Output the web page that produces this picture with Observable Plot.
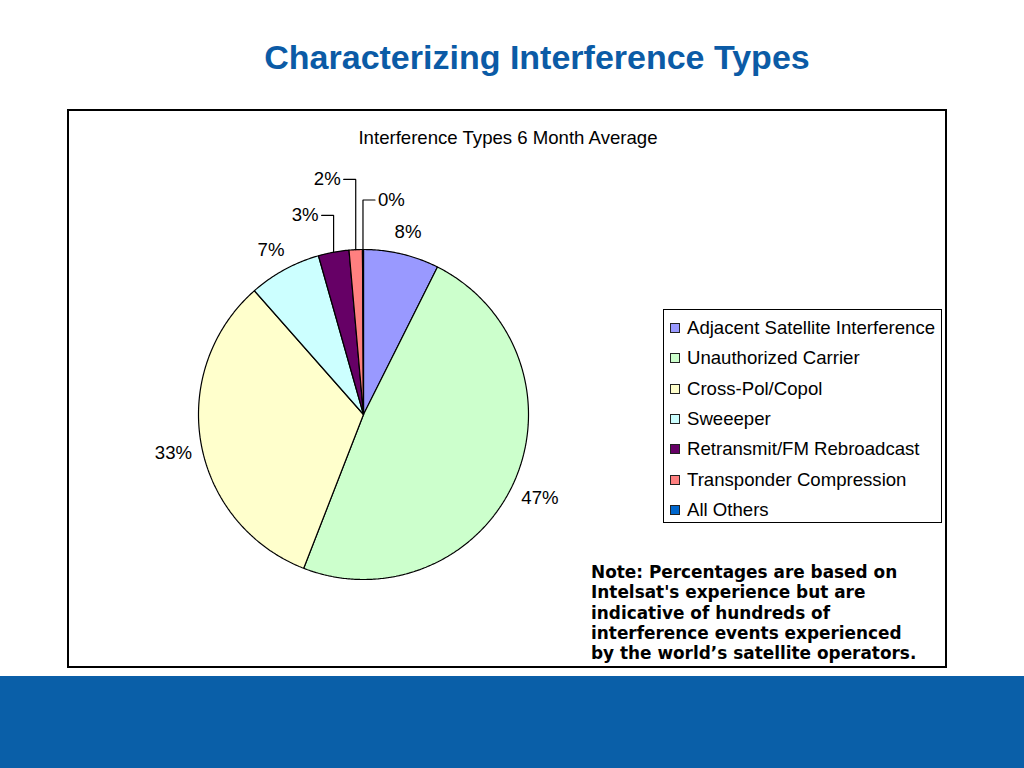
<!DOCTYPE html>
<html><head><meta charset="utf-8">
<script src="https://cdn.jsdelivr.net/npm/d3@7"></script>
<script src="https://cdn.jsdelivr.net/npm/@observablehq/plot@0.6"></script>
<style>
body{margin:0;width:1024px;height:768px;position:relative;background:#fff;font-family:"Liberation Sans",Arial,sans-serif;overflow:hidden}
#title{position:absolute;left:0;width:1074px;top:36px;text-align:center;font-weight:bold;font-size:34px;line-height:42px;color:#0B5BA6}
#band{position:absolute;left:0;top:676px;width:1024px;height:92px;background:#0A5FA8}
#box{position:absolute;left:67px;top:109px;width:880px;height:559px;border:2px solid #000;box-sizing:border-box}
#ctitle{position:absolute;left:0;width:1016px;top:128px;text-align:center;font-size:18.6px;line-height:20px;color:#000}
#chart{position:absolute;left:68px;top:110px}
#legend{position:absolute;left:663px;top:309px;width:279px;height:214px;border:1.5px solid #000;box-sizing:border-box;background:#fff}
.row{position:absolute;left:6px;height:20px;line-height:20px;font-size:18.6px;color:#000;white-space:nowrap}
.sw{display:inline-block;width:8px;height:8px;border:1px solid #222;margin-right:7px;vertical-align:1px}
#note{position:absolute;left:591px;top:562px;font-family:"DejaVu Sans",Verdana,sans-serif;font-weight:bold;font-size:16.9px;line-height:20.3px;color:#000;white-space:nowrap}
</style>
</head><body>
<div id="title">Characterizing Interference Types</div>
<div id="box"></div>
<div id="ctitle">Interference Types 6 Month Average</div>
<div id="chart"></div>
<div id="legend"></div>
<div id="note">Note: Percentages are based on<br>Intelsat's experience but are<br>indicative of hundreds of<br>interference events experienced<br>by the world’s satellite operators.</div>
<div id="band"></div>
<script>
const categories = ["Adjacent Satellite Interference","Unauthorized Carrier","Cross-Pol/Copol","Sweeeper","Retransmit/FM Rebroadcast","Transponder Compression","All Others"];
const shares = [7.4, 48.5, 32.6, 7.1, 3.0, 1.3, 0.1];
const shareLabels = ["8%","47%","33%","7%","3%","2%","0%"];
const colors = ["#9999FF","#CCFFCC","#FFFFCC","#CCFFFF","#660066","#FF8080","#0066CC"];

// layout
const W = 878, H = 557, cx = 295, cy = 304, R = 165;
const leaderLayout = { // label height (in radii) and side for small slices
  "Retransmit/FM Rebroadcast": {h: 1.207, dir: -1},
  "Transponder Compression": {h: 1.425, dir: -1},
  "All Others": {h: 1.30, dir: 1}
};

const arcs = d3.pie().sort(null).value(d => d)(shares);
const poly = [];
const leaders = [];
const plainLabels = [], leftLabels = [], rightLabels = [];
arcs.forEach((a, i) => {
  const k = categories[i];
  const a0 = a.startAngle, a1 = a.endAngle;
  const n = Math.max(2, Math.ceil((a1 - a0) / 0.01));
  poly.push({k, x: 0, y: 0});
  for (let j = 0; j <= n; j++) {
    const t = a0 + (a1 - a0) * j / n;
    poly.push({k, x: Math.sin(t), y: Math.cos(t)});
  }
  poly.push({k, x: 0, y: 0});
  const m = (a0 + a1) / 2;
  const text = shareLabels[i];
  const L = leaderLayout[k];
  if (L) {
    const px = Math.sin(m), py = Math.cos(m);
    const hl = 12 / R;
    leaders.push({k, x: px, y: py}, {k, x: px, y: L.h}, {k, x: px + L.dir * hl, y: L.h});
    const lab = {x: px + L.dir * (hl + 3 / R), y: L.h, text};
    (L.dir < 0 ? leftLabels : rightLabels).push(lab);
  } else {
    plainLabels.push({x: 1.17 * Math.sin(m), y: 1.17 * Math.cos(m), text});
  }
});

const chart = Plot.plot({
  width: W, height: H, margin: 0,
  style: {background: "transparent", overflow: "visible", fontFamily: "'Liberation Sans', Arial, sans-serif"},
  x: {domain: [-cx / R, (W - cx) / R], axis: null},
  y: {domain: [-(H - cy) / R, cy / R], axis: null},
  color: {domain: categories, range: colors},
  marks: [
    Plot.line(poly, {x: "x", y: "y", z: "k", fill: "k", stroke: "#000", strokeWidth: 1.2, strokeLinejoin: "miter"}),
    Plot.line(leaders, {x: "x", y: "y", z: "k", stroke: "#000", strokeWidth: 1.2, strokeLinejoin: "miter"}),
    Plot.text(plainLabels, {x: "x", y: "y", text: "text", fontSize: 18.6, fill: "#000", textAnchor: "middle", dy: 5}),
    Plot.text(leftLabels, {x: "x", y: "y", text: "text", fontSize: 18.6, fill: "#000", textAnchor: "end"}),
    Plot.text(rightLabels, {x: "x", y: "y", text: "text", fontSize: 18.6, fill: "#000", textAnchor: "start"})
  ]
});
document.getElementById("chart").appendChild(chart);

const legend = document.getElementById("legend");
categories.forEach((c, i) => {
  const row = document.createElement("div");
  row.className = "row";
  row.style.top = (8 + i * 30.3) + "px";
  const sw = document.createElement("span");
  sw.className = "sw";
  sw.style.background = colors[i];
  row.appendChild(sw);
  row.appendChild(document.createTextNode(c));
  legend.appendChild(row);
});
</script>
</body></html>
